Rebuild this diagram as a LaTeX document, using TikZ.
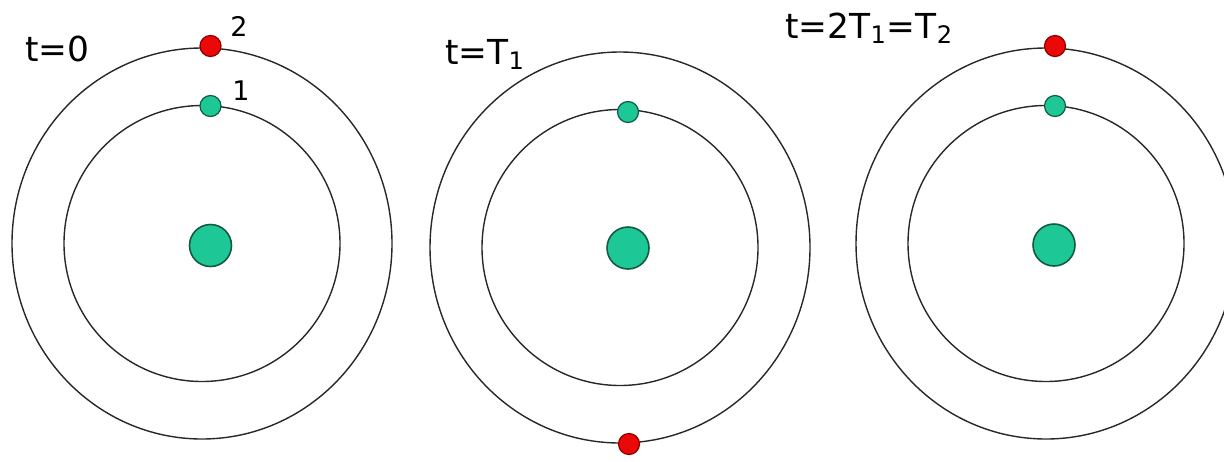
\documentclass[tikz,border=0pt]{standalone}
\usepackage{fontspec}
\setmainfont{DejaVu Sans}
\usetikzlibrary{positioning}
\definecolor{ballgreen}{RGB}{30,200,150}
\definecolor{ballgreenrim}{RGB}{20,90,65}
\definecolor{ballred}{RGB}{235,8,8}
\definecolor{ballredrim}{RGB}{140,0,0}
\definecolor{orbitclr}{RGB}{40,40,40}
\tikzset{
  % orbitalar
  orbit/.style      = {draw=orbitclr, line width=0.7pt},
  % sharlar
  nucleus/.style    = {circle, fill=ballgreen, draw=ballgreenrim, line width=0.8pt,
                       inner sep=0pt, minimum size=21pt},
  electronA/.style  = {circle, fill=ballgreen, draw=ballgreenrim, line width=0.6pt,
                       inner sep=0pt, minimum size=10.5pt},
  electronB/.style  = {circle, fill=ballred, draw=ballredrim, line width=0.6pt,
                       inner sep=0pt, minimum size=10.5pt},
  % etiketlar
  timelab/.style    = {font=\fontsize{17.2}{20}\selectfont, anchor=base west, inner sep=0pt},
  numlab/.style     = {font=\fontsize{13.5}{16}\selectfont, anchor=base west, inner sep=0pt},
}
\begin{document}
\begin{tikzpicture}[x=0.5pt, y=-0.5pt]
  \clip (0,0) rectangle (1224,461);
  \fill[white] (0,0) rectangle (1224,461);
  % orbitalar: tashqi (2) va ichki (1)
  \foreach \cx/\cy in {202/243.5, 620/247.5, 1046/243.5}{
    \draw[orbit] (\cx,\cy) ellipse [x radius=190, y radius=195.5];
    \draw[orbit] (\cx,\cy) circle [radius=138];
  }
  % t=0
  \node[nucleus]   (nucA) at (210.5,245.5) {};
  \node[electronA] (eA1)  at (210.5,106) {};
  \node[electronB] (eA2)  at (210.5,46) {};
  % t=T1
  \node[nucleus]   (nucB) at (628,248) {};
  \node[electronA] (eB1)  at (628,112) {};
  \node[electronB] (eB2)  at (629,444) {};
  % t=2T1=T2
  \node[nucleus]   (nucC) at (1054,245) {};
  \node[electronA] (eC1)  at (1055,106) {};
  \node[electronB] (eC2)  at (1055,46) {};
  % Etiketlar
  \node[timelab] (labA) at (25,61)  {t=0};
  \node[timelab] (labB) at (445,64) {t=T\textsubscript{1}};
  \node[timelab] (labC) at (785,38) {t=2T\textsubscript{1}=T\textsubscript{2}};
  \node[numlab]  (num2) at (230,36)  {2};
  \node[numlab]  (num1) at (232,100) {1};
\end{tikzpicture}
\end{document}
